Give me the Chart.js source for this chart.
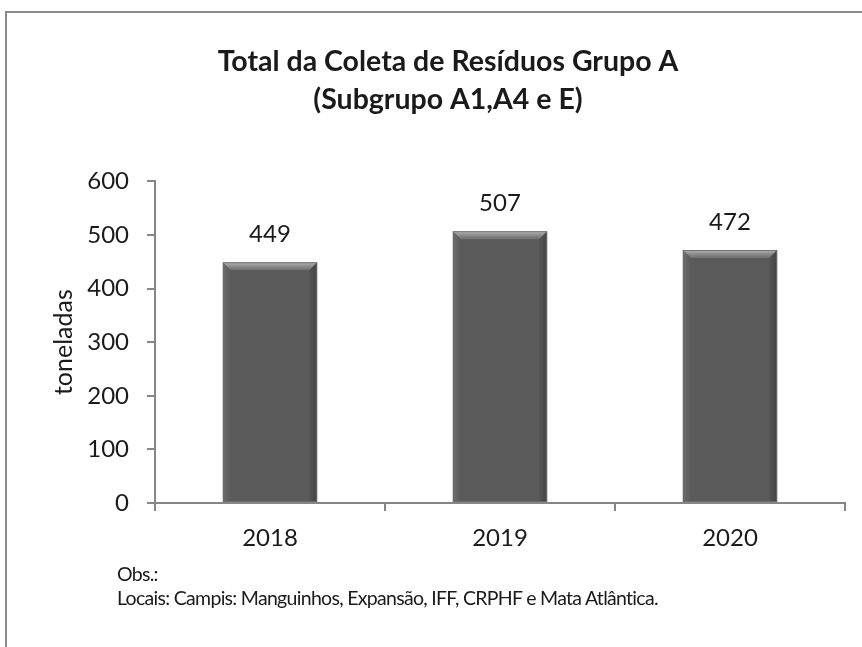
<!DOCTYPE html>
<html>
<head>
<meta charset="utf-8">
<script src="https://cdn.jsdelivr.net/npm/chart.js@4/dist/chart.umd.min.js"></script>
<style>
  html, body { margin: 0; padding: 0; background: #ffffff; }
  #wrap { position: relative; width: 862px; height: 647px; overflow: hidden; }
  #frame { position: absolute; left: 5px; top: 11px; width: 880px; height: 700px; border: 2px solid #8c8c8c; box-sizing: border-box; }
  #chart { position: absolute; left: 0; top: 0; }
  #obs { position: absolute; left: 117px; top: 562px; font-family: Lato, "Open Sans", sans-serif; font-size: 19.5px; letter-spacing: -0.7px; line-height: 24px; color: #1a1a1a; white-space: nowrap; }
</style>
</head>
<body>
<div id="wrap">
  <div id="frame"></div>
  <canvas id="chart" width="862" height="647"></canvas>
  <div id="obs">Obs.:<br>Locais: Campis: Manguinhos, Expansão, IFF, CRPHF e Mata Atlântica.</div>
</div>
<script>
const titleLines = ["Total da Coleta de Resíduos Grupo A", "(Subgrupo A1,A4 e E)"];
const categories = ["2018", "2019", "2020"];
const values = [449, 507, 472];
const yTicks = [0, 100, 200, 300, 400, 500, 600];
const yTitle = "toneladas";

const FONT = "Lato, 'Open Sans', sans-serif";
const AXIS = "#868686";
const TEXT = "#1a1a1a";
const PAD_LEFT = 51;

const barFill = (ctx) => {
  const chart = ctx.chart;
  const el = chart.getDatasetMeta(0).data[ctx.dataIndex];
  if (!el || !Number.isFinite(el.y) || !Number.isFinite(el.base) || el.base === el.y) return "#5a5a5a";
  const g = chart.ctx.createLinearGradient(0, el.y, 0, el.base);
  g.addColorStop(0, "#6c6c6c");
  g.addColorStop(1, "#4c4c4c");
  return g;
};

const bevelPlugin = {
  id: "bevel",
  afterDatasetsDraw(chart) {
    const c = chart.ctx;
    chart.getDatasetMeta(0).data.forEach(el => {
      if (!Number.isFinite(el.y) || !Number.isFinite(el.x)) return;
      const l = el.x - el.width / 2, r = el.x + el.width / 2, t = el.y, b = el.base;
      const d = 8;
      c.save();
      c.beginPath(); c.moveTo(l, t); c.lineTo(r, t); c.lineTo(r - d, t + d); c.lineTo(l + d, t + d); c.closePath();
      const g = c.createLinearGradient(0, t, 0, t + d);
      g.addColorStop(0, "rgba(200,200,200,0.85)"); g.addColorStop(1, "rgba(130,130,130,0.5)");
      c.fillStyle = g; c.fill();
      c.beginPath(); c.moveTo(l, t); c.lineTo(l + d, t + d); c.lineTo(l + d, b); c.lineTo(l, b); c.closePath();
      const gl = c.createLinearGradient(l, 0, l + d, 0);
      gl.addColorStop(0, "rgba(150,150,150,0.35)"); gl.addColorStop(1, "rgba(120,120,120,0.05)");
      c.fillStyle = gl; c.fill();
      c.beginPath(); c.moveTo(r, t); c.lineTo(r - d, t + d); c.lineTo(r - d, b); c.lineTo(r, b); c.closePath();
      const gr = c.createLinearGradient(r - d, 0, r, 0);
      gr.addColorStop(0, "rgba(0,0,0,0.05)"); gr.addColorStop(1, "rgba(0,0,0,0.25)");
      c.fillStyle = gr; c.fill();
      c.strokeStyle = "rgba(110,110,110,0.9)"; c.lineWidth = 1;
      c.strokeRect(l + 0.5, t + 0.5, el.width - 1, b - t - 1);
      c.restore();
    });
  }
};

const labelPlugin = {
  id: "valueLabels",
  afterDatasetsDraw(chart) {
    const c = chart.ctx;
    const ds = chart.data.datasets[0];
    c.save();
    c.font = "24px " + FONT;
    c.fillStyle = TEXT;
    c.textAlign = "center";
    c.textBaseline = "middle";
    chart.getDatasetMeta(0).data.forEach((el, i) => {
      if (!Number.isFinite(el.y)) return;
      c.fillText(String(ds.data[i]), el.x, el.y - 28);
    });
    c.restore();
  }
};

new Chart(document.getElementById("chart"), {
  type: "bar",
  data: {
    labels: categories,
    datasets: [{ data: values, backgroundColor: barFill, borderWidth: 0, barPercentage: 0.41, categoryPercentage: 1 }]
  },
  options: {
    responsive: false,
    animation: false,
    layout: { padding: { left: PAD_LEFT, right: 17, top: 0, bottom: 0 } },
    plugins: {
      legend: { display: false },
      tooltip: { enabled: false },
      title: {
        display: true,
        text: titleLines,
        color: TEXT,
        font: { family: FONT, size: 28.5, weight: "bold", lineHeight: 1.34 },
        padding: { top: 43, bottom: 62 }
      }
    },
    scales: {
      x: {
        grid: { display: true, drawOnChartArea: false, drawTicks: true, tickLength: 8, color: AXIS, lineWidth: 2, offset: true },
        border: { display: true, color: AXIS, width: 2 },
        ticks: { color: TEXT, font: { family: FONT, size: 24 }, padding: 13 },
        afterFit(s) { s.height = 144; }
      },
      y: {
        min: 0, max: 600,
        afterBuildTicks(s) { s.ticks = yTicks.map(v => ({ value: v })); },
        grid: { display: true, drawOnChartArea: false, drawTicks: true, tickLength: 8, color: AXIS, lineWidth: 2 },
        border: { display: true, color: AXIS, width: 2 },
        ticks: { color: TEXT, font: { family: FONT, size: 24 }, padding: 18 },
        title: { display: true, text: yTitle, color: TEXT, font: { family: FONT, size: 25, lineHeight: 1.0 }, padding: { top: 0.5, bottom: 0 } },
        afterFit(s) { s.width = 155 - PAD_LEFT; }
      }
    }
  },
  plugins: [bevelPlugin, labelPlugin]
});
</script>
</body>
</html>
